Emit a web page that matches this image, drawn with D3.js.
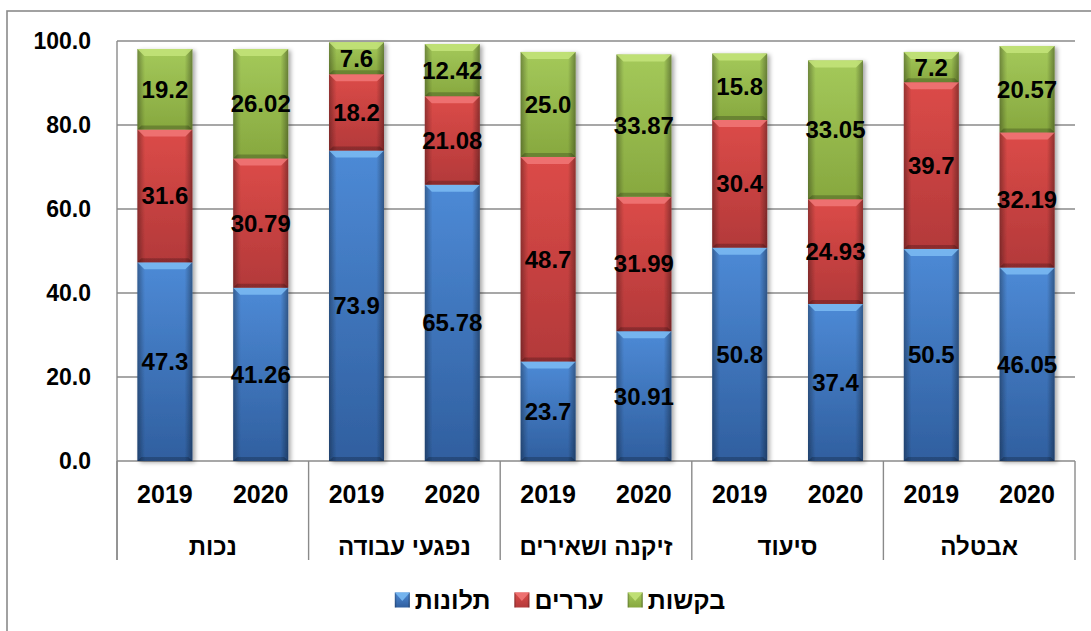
<!DOCTYPE html>
<html lang="he">
<head>
<meta charset="utf-8">
<script src="https://cdn.jsdelivr.net/npm/d3@7"></script>
<style>
  html, body { margin: 0; padding: 0; background: #fff; }
  svg { display: block; font-family: "Liberation Sans", Arial, sans-serif; }
</style>
</head>
<body>
<svg id="chart" width="1091" height="631"></svg>
<script>
// Categories
const groups = ["נכות", "נפגעי עבודה", "זיקנה ושאירים", "סיעוד", "אבטלה"];
const years = ["2019", "2020"];

// Series values, one entry per (group, year), in group order
const complaints = [47.3, 41.26, 73.9, 65.78, 23.7, 30.91, 50.8, 37.4, 50.5, 46.05];
const appeals    = [31.6, 30.79, 18.2, 21.08, 48.7, 31.99, 30.4, 24.93, 39.7, 32.19];
const requests   = [19.2, 26.02, 7.6, 12.42, 25.0, 33.87, 15.8, 33.05, 7.2, 20.57];

const seriesNames = ["תלונות", "עררים", "בקשות"];
const yTicks = [0, 20, 40, 60, 80, 100];

// Palette per series: base top, base bottom, bevel highlight
const palette = [
  { top: "#4d8ad6", bottom: "#305f9f", light: "#79b9f2" },
  { top: "#dc4b48", bottom: "#b3393a", light: "#f07474" },
  { top: "#a4c95a", bottom: "#87a83f", light: "#c2e278" }
];

const svg = d3.select("#chart");
const plot = { left: 117, right: 1075, top: 41, bottom: 461 };
const axisBottom = 560;
const gridColor = "#8a8a8a";

// Outer chart frame (extends past right/bottom edges)
svg.append("rect")
  .attr("x", 7).attr("y", 11).attr("width", 1200).attr("height", 800)
  .attr("fill", "#fff").attr("stroke", gridColor).attr("stroke-width", 1.6);

const defs = svg.append("defs");

palette.forEach((p, i) => {
  const g = defs.append("linearGradient").attr("id", "base" + i)
    .attr("x1", 0).attr("y1", 0).attr("x2", 0).attr("y2", 1);
  g.append("stop").attr("offset", "0%").attr("stop-color", p.top);
  g.append("stop").attr("offset", "100%").attr("stop-color", p.bottom);
});

// Darkened side edges of each bar
const side = defs.append("linearGradient").attr("id", "sides")
  .attr("x1", 0).attr("y1", 0).attr("x2", 1).attr("y2", 0);
[[0, 0.32], [0.1, 0.08], [0.14, 0], [0.86, 0], [0.9, 0.1], [1, 0.35]].forEach(([o, a]) =>
  side.append("stop").attr("offset", o).attr("stop-color", "#000").attr("stop-opacity", a));

const shadow = defs.append("filter").attr("id", "shadow")
  .attr("x", "-20%").attr("y", "-10%").attr("width", "150%").attr("height", "130%");
shadow.append("feDropShadow").attr("dx", 2.5).attr("dy", 1.5)
  .attr("stdDeviation", 2).attr("flood-color", "#000").attr("flood-opacity", 0.35);

// Scales
const x0 = d3.scaleBand().domain(groups).range([plot.left, plot.right]).padding(0);
const x1 = d3.scaleBand().domain(years).range([0, x0.bandwidth()])
  .paddingInner(0.426).paddingOuter(0.213);
const y = d3.scaleLinear().domain([0, 100]).range([plot.bottom, plot.top]);

// Gridlines
svg.append("g").selectAll("line").data(yTicks).join("line")
  .attr("x1", plot.left).attr("x2", plot.right)
  .attr("y1", d => y(d)).attr("y2", d => y(d))
  .attr("stroke", gridColor).attr("stroke-width", 1.4);

// Y axis line and tick labels
svg.append("line")
  .attr("x1", plot.left).attr("x2", plot.left)
  .attr("y1", plot.top).attr("y2", axisBottom)
  .attr("stroke", gridColor).attr("stroke-width", 1.4);

svg.append("g").selectAll("text").data(yTicks).join("text")
  .attr("x", plot.left - 26).attr("y", d => y(d))
  .attr("text-anchor", "end").attr("dominant-baseline", "central")
  .attr("font-size", 23).attr("font-weight", "bold").attr("fill", "#000")
  .text(d => d3.format(".1f")(d));

// Category axis: group separators
svg.append("g").selectAll("line").data(groups.map(g => x0(g)).concat([plot.right])).join("line")
  .attr("x1", d => d).attr("x2", d => d)
  .attr("y1", plot.bottom).attr("y2", axisBottom)
  .attr("stroke", gridColor).attr("stroke-width", 1.4);

// Build stacked records
const records = [];
groups.forEach((g, gi) => {
  years.forEach((yr, yi) => {
    const idx = gi * years.length + yi;
    const vals = [complaints[idx], appeals[idx], requests[idx]];
    let acc = 0;
    const segs = vals.map((v, si) => {
      const s = { series: si, value: v, y0: acc, y1: acc + v, year: yr };
      acc += v;
      return s;
    });
    records.push({ group: g, year: yr, segs });
  });
});

const fmt2019 = d3.format(".1f");
const label = (s) => s.year === "2019" ? fmt2019(s.value) : String(s.value);

const bars = svg.append("g").selectAll("g.bar").data(records).join("g")
  .attr("class", "bar")
  .attr("transform", d => `translate(${x0(d.group) + x1(d.year)},0)`);

const bw = x1.bandwidth();

bars.each(function (d) {
  const gBar = d3.select(this);
  const shapes = gBar.append("g").attr("filter", "url(#shadow)");
  d.segs.forEach(s => {
    const top = y(s.y1), bot = y(s.y0), h = bot - top;
    const p = palette[s.series];
    const b = Math.min(7, h / 3);
    const seg = shapes.append("g");
    seg.append("rect").attr("x", 0).attr("y", top).attr("width", bw).attr("height", h)
      .attr("fill", `url(#base${s.series})`);
    seg.append("rect").attr("x", 0).attr("y", top).attr("width", bw).attr("height", h)
      .attr("fill", "url(#sides)");
    // top bevel
    seg.append("path")
      .attr("d", `M0,${top}L${bw},${top}L${bw - b},${top + b}L${b},${top + b}Z`)
      .attr("fill", p.light).attr("opacity", 0.9);
    // bottom bevel
    const bb = Math.min(4, h / 4);
    seg.append("path")
      .attr("d", `M0,${bot}L${bw},${bot}L${bw - bb},${bot - bb}L${bb},${bot - bb}Z`)
      .attr("fill", "#000").attr("opacity", 0.22);
  });
  gBar.selectAll("text.val").data(d.segs).join("text")
    .attr("class", "val")
    .attr("x", bw / 2).attr("y", s => (y(s.y0) + y(s.y1)) / 2)
    .attr("text-anchor", "middle").attr("dominant-baseline", "central")
    .attr("font-size", 24).attr("font-weight", "bold").attr("fill", "#000")
    .text(label);
});

// Year labels
svg.append("g").selectAll("text").data(records).join("text")
  .attr("x", d => x0(d.group) + x1(d.year) + bw / 2).attr("y", 494)
  .attr("text-anchor", "middle").attr("dominant-baseline", "central")
  .attr("font-size", 25).attr("font-weight", "bold").attr("fill", "#000")
  .text(d => d.year);

// Group labels
svg.append("g").selectAll("text").data(groups).join("text")
  .attr("x", d => x0(d) + x0.bandwidth() / 2).attr("y", 546)
  .attr("text-anchor", "middle").attr("dominant-baseline", "central")
  .attr("font-size", 24).attr("font-weight", "bold").attr("fill", "#000")
  .text(d => d);

// Legend: laid out right-to-left, marker to the left of each label
const legend = svg.append("g");
const legendY = 600, box = 15, boxGap = 5, itemGap = 24, legendFont = 25;
const items = seriesNames.map((name, i) => ({ name, i }));
const tmp = legend.append("g");
items.forEach(it => {
  const t = tmp.append("text").attr("font-size", legendFont).attr("font-weight", "bold").text(it.name);
  it.tw = t.node().getComputedTextLength();
  it.w = box + boxGap + it.tw;
});
tmp.remove();
const total = d3.sum(items, d => d.w) + itemGap * (items.length - 1);
let cursor = 560 + total / 2;
// rightmost item is the last series
for (let k = items.length - 1; k >= 0; k--) {
  const it = items[k];
  const xStart = cursor - it.w;
  const p = palette[it.i];
  const gi = legend.append("g");
  gi.append("rect").attr("x", xStart).attr("y", legendY - box / 2)
    .attr("width", box).attr("height", box).attr("fill", `url(#base${it.i})`);
  gi.append("rect").attr("x", xStart).attr("y", legendY - box / 2)
    .attr("width", box).attr("height", box).attr("fill", "url(#sides)");
  gi.append("path")
    .attr("d", `M${xStart},${legendY - box / 2}L${xStart + box},${legendY - box / 2}L${xStart + box / 2},${legendY + 1}Z`)
    .attr("fill", p.light).attr("opacity", 0.9);
  gi.append("text").attr("x", xStart + box + boxGap).attr("y", legendY)
    .attr("dominant-baseline", "central")
    .attr("font-size", legendFont).attr("font-weight", "bold").attr("fill", "#000")
    .text(it.name);
  cursor = xStart - itemGap;
}
</script>
</body>
</html>
